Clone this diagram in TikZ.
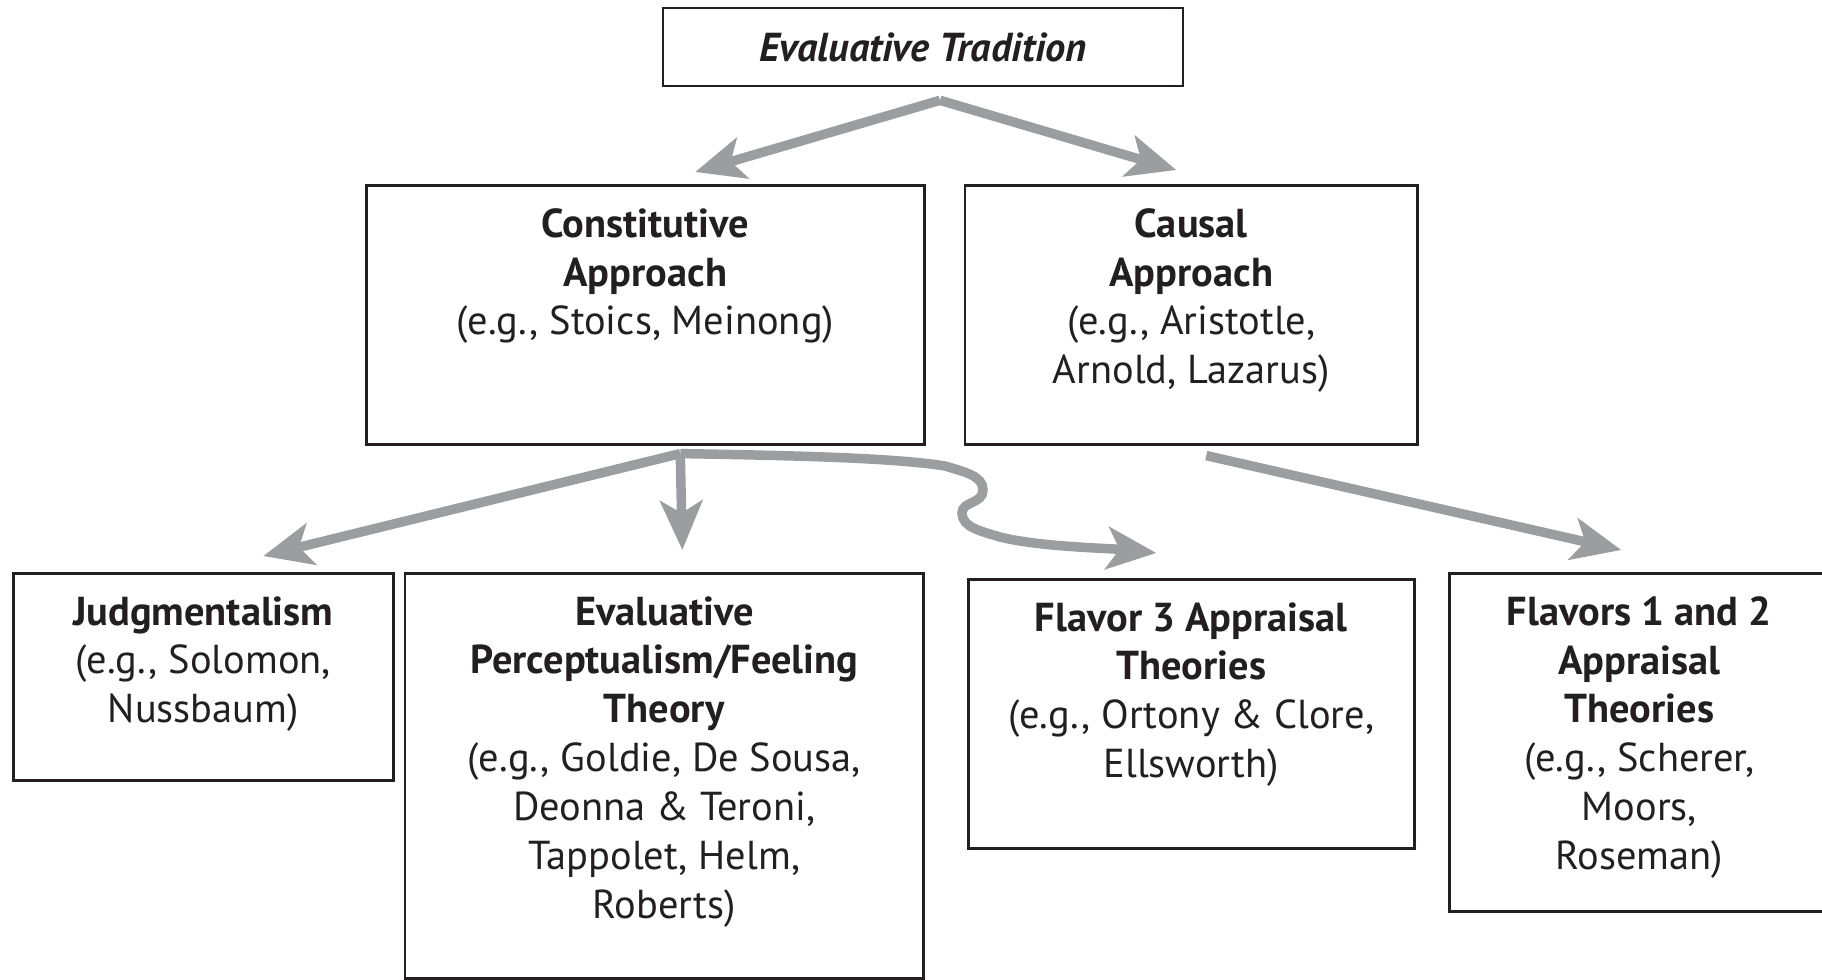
\documentclass[tikz,border=0pt]{standalone}
\usepackage{fontspec}
\setmainfont{PT Sans}
\usetikzlibrary{arrows.meta,positioning,calc}
\definecolor{arrowgray}{RGB}{156,157,161}
\definecolor{boxline}{RGB}{35,31,32}
\newcommand{\boxtext}[3]{\begin{minipage}[t][#2][t]{#1}\centering\vspace*{0.46cm}#3\end{minipage}}

\begin{document}
\begin{tikzpicture}[x=0.02cm,y=-0.02cm]
	\useasboundingbox (0,0) rectangle (1822,980);
	\begin{scope}[every node/.style={rectangle,draw=boxline,line width=1.5pt,inner sep=0pt,text=boxline,font=\fontsize{23}{27.8}\selectfont,anchor=north west}]
		\node[minimum width=10.4cm,minimum height=1.56cm,anchor=center] (trad) at (923,47) {\textbf{\textit{Evaluative Tradition}}};
		\node (cons) at (365,184) {\boxtext{11.16cm}{5.18cm}{\textbf{Constitutive}\\ \textbf{Approach}\\ (e.g., Stoics, Meinong)}};
		\node[right=0.76cm of cons] (caus) {\boxtext{9.06cm}{5.18cm}{\textbf{Causal}\\ \textbf{Approach}\\ (e.g., Aristotle,\\ Arnold, Lazarus)}};
		\node (judg) at (12,572) {\boxtext{7.6cm}{4.14cm}{\textbf{Judgmentalism}\\ (e.g., Solomon,\\ Nussbaum)}};
		\node[right=0.18cm of judg.north east,anchor=north west] (perc) {\boxtext{10.38cm}{8.1cm}{\textbf{Evaluative}\\ \textbf{Perceptualism/Feeling}\\ \textbf{Theory}\\ (e.g., Goldie, De Sousa,\\ Deonna \& Teroni,\\ Tappolet, Helm,\\ Roberts)}};
		\node (flavthree) at (967,578) {\boxtext{8.92cm}{5.38cm}{\textbf{Flavor 3 Appraisal}\\ \textbf{Theories}\\ (e.g., Ortony \& Clore,\\ Ellsworth)}};
		\node (flavonetwo) at (1448,572) {\boxtext{7.6cm}{6.76cm}{\textbf{Flavors 1 and 2}\\ \textbf{Appraisal}\\ \textbf{Theories}\\ (e.g., Scherer,\\ Moors,\\ Roseman)}};
	\end{scope}

	\begin{scope}[grayarrow/.style={draw=arrowgray,line width=5.4pt,-{Stealth[length=28pt,width=24pt,inset=7pt]}}]
		\coordinate (tradfork) at ($(trad.south)+(17,13)$);
		\coordinate (consfork) at ($(cons.south)+(35,8)$);
		\draw[grayarrow] (tradfork) -- ($(cons.north)+(50,-12)$);
		\draw[grayarrow] (tradfork) -- ($(caus.north)+(-15,-14)$);
		\draw[grayarrow] (consfork) -- ($(judg.north)+(60,-16)$);
		\draw[grayarrow] (consfork) -- ($(perc.north)+(18,-22)$);
		\draw[grayarrow] (consfork) .. controls +(120,2) and +(-50,-8) .. (945,466)
			.. controls +(20,6) and +(0,-14) .. (983,490)
			.. controls +(0,14) and +(0,-12) .. (962,513)
			.. controls +(0,14) and +(-20,-6) .. (1000,537)
			.. controls +(40,10) and +(-50,-5) .. ($(flavthree.north)+(-35,-25)$);
		\draw[grayarrow] ($(caus.south)+(15,10)$) -- ($(flavonetwo.north)+(-18,-22)$);
	\end{scope}
\end{tikzpicture}
\end{document}
